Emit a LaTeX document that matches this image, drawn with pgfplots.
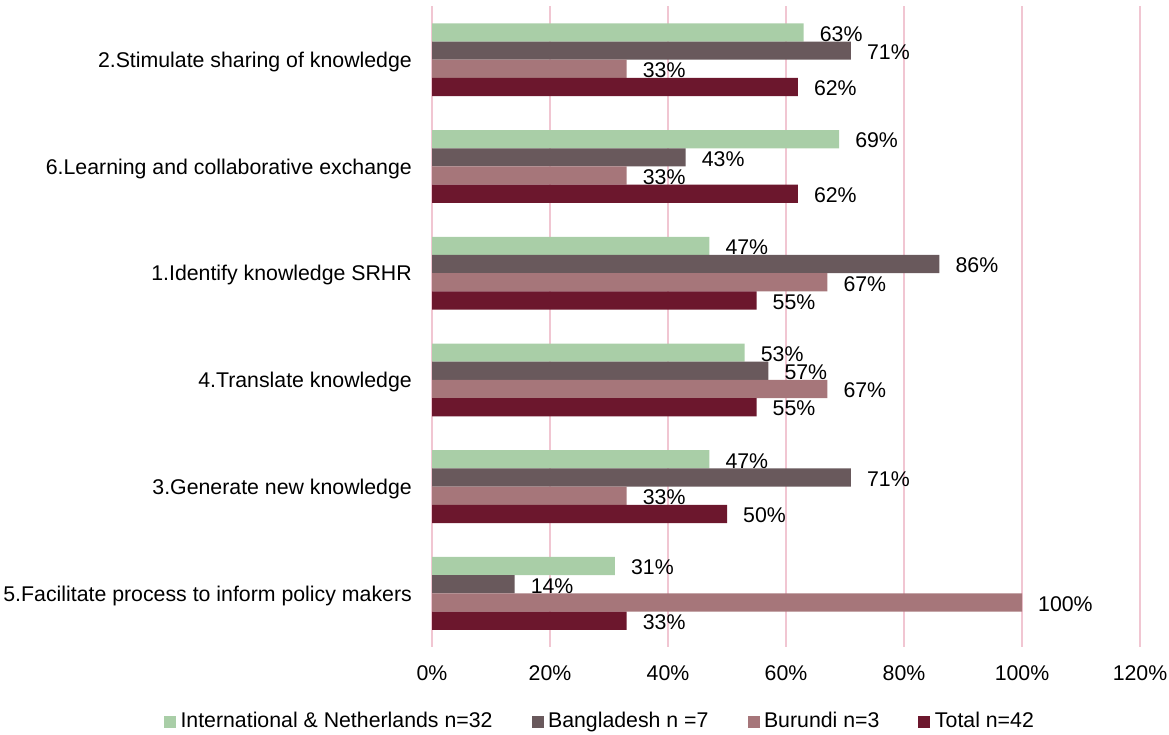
\documentclass[border=0pt]{standalone}
\usepackage{pgfplots}
\pgfplotsset{compat=1.18}
\usepackage{fontspec}
\setmainfont{Liberation Sans}
\definecolor{cIntl}{RGB}{169,206,167}
\definecolor{cBang}{RGB}{105,89,92}
\definecolor{cBuru}{RGB}{166,118,122}
\definecolor{cTot}{RGB}{108,23,45}
\definecolor{cGrid}{RGB}{241,198,210}
\newcommand\cf{\fontsize{21.3}{25.6}\selectfont}
\pgfplotsset{
  sqlegend/.style={legend image code/.code={\fill[##1,draw=none] (0pt,0pt) rectangle (12pt,12pt);}}
}
\begin{document}
\begin{tikzpicture}[x=1pt,y=1pt]
\path[use as bounding box] (0,0) rectangle (1169,-734);
\begin{axis}[
  at={(432pt,-646.7pt)}, anchor=south west,
  scale only axis, width=708pt, height=640.35pt,
  xbar=0pt, bar width=18.2pt,
  xmin=0, xmax=120, ymin=-0.5, ymax=5.5, y dir=reverse,
  xtick={0,20,...,120}, ytick={0,1,2,3,4,5},
  yticklabels={2.Stimulate sharing of knowledge,6.Learning and collaborative exchange,1.Identify knowledge SRHR,4.Translate knowledge,3.Generate new knowledge,5.Facilitate process to inform policy makers},
  /pgf/number format/assume math mode=true,
  xticklabel={\pgfmathprintnumber{\tick}\%},
  axis line style={draw=none}, major tick length=0pt,
  xmajorgrids, major grid style={color=cGrid, line width=1.8pt},
  tick label style={font=\cf, text=black},
  xticklabel style={inner sep=0pt, yshift=-18.3pt},
  yticklabel style={anchor=base east, inner sep=0pt, xshift=-20pt, yshift=-7.8pt},
  point meta=x,
  nodes near coords={\pgfmathprintnumber{\pgfplotspointmeta}\%},
  every node near coord/.append style={font=\cf, text=black, inner sep=0pt, anchor=west, xshift=16pt, yshift=-1.5pt},
  clip=false,
  legend columns=4,
  legend style={at={(-0.3785,-0.1024)}, anchor=north west, draw=none, fill=none, font=\cf, inner sep=0pt, outer sep=0pt,
    cells={anchor=base west}, nodes={inner sep=0pt, outer sep=0pt},
    /tikz/every odd column/.append style={column sep=4.5pt},
    /tikz/every even column/.append style={column sep=39pt}},
]
\addplot[fill=cIntl, draw=none, sqlegend, /pgf/bar shift=27.3pt] coordinates {(63,0) (69,1) (47,2) (53,3) (47,4) (31,5)};
\addplot[fill=cBang, draw=none, sqlegend, /pgf/bar shift=9.1pt] coordinates {(71,0) (43,1) (86,2) (57,3) (71,4) (14,5)};
\addplot[fill=cBuru, draw=none, sqlegend, /pgf/bar shift=-9.1pt] coordinates {(33,0) (33,1) (67,2) (67,3) (33,4) (100,5)};
\addplot[fill=cTot, draw=none, sqlegend, /pgf/bar shift=-27.3pt] coordinates {(62,0) (62,1) (55,2) (55,3) (50,4) (33,5)};
\legend{International \& Netherlands n=32, Bangladesh n =7, Burundi n=3, Total n=42}
\end{axis}
\end{tikzpicture}
\end{document}
